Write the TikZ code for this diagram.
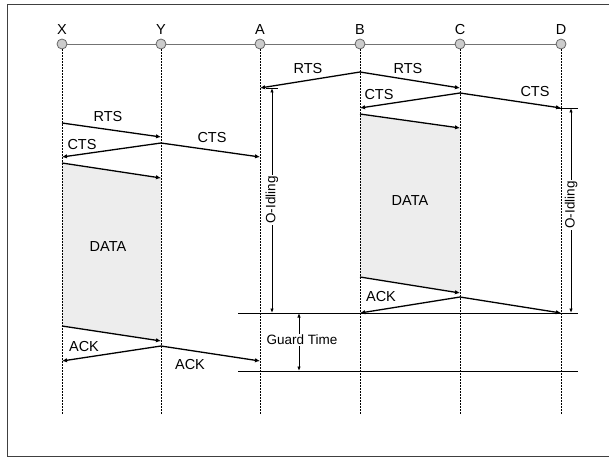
\documentclass[tikz,border=0pt]{standalone}
\usepackage{fontspec}
\setmainfont{Liberation Sans}
\usetikzlibrary{arrows.meta}
\begin{document}
\begin{tikzpicture}[x=1pt,y=-1pt,
  msg/.style={line width=1.3pt,-{Latex[length=5pt,width=4.5pt]}},
  dur/.style={line width=0.9pt,{Latex[length=4.5pt,width=3.5pt]}-{Latex[length=4.5pt,width=3.5pt]}},
  life/.style={line width=0.8pt,dash pattern=on 2pt off 1pt},
  station/.style={circle,draw=black!60,fill=black!20,minimum size=10pt,inner sep=0pt,line width=0.8pt},
  lbl/.style={font=\fontsize{14.5}{16}\selectfont,inner sep=0pt},
  slbl/.style={font=\fontsize{13.5}{15}\selectfont,inner sep=1pt,fill=white},
  databox/.style={fill=black!7,draw=none}]
\useasboundingbox (0,0) rectangle (609,457);
\draw[line width=1pt,black!75] (7,456) -- (7,5) -- (612,5);
\draw[line width=1pt,black!75] (7,456) -- (612,456);

% stations
\draw[line width=0.9pt,black!55] (62,44) -- (561,44);
\foreach \n/\x in {X/62,Y/161,A/260,B/360,C/460,D/561}{
  \node[station] (\n) at (\x,44) {};
  \node[lbl] (l\n) at (\x,30) {\n};
  \coordinate (\n e) at (\x,415);
}

% data boxes
\coordinate (d1a) at (62,163); \coordinate (d1b) at (161,178);
\coordinate (d1c) at (161,341); \coordinate (d1d) at (62,326);
\fill[databox] (d1a) -- (d1b) -- (d1c) -- (d1d) -- cycle;
\coordinate (d2a) at (360,114); \coordinate (d2b) at (460,128);
\coordinate (d2c) at (460,293); \coordinate (d2d) at (360,277);
\fill[databox] (d2a) -- (d2b) -- (d2c) -- (d2d) -- cycle;

% lifelines
\foreach \n in {X,Y,A,B,C,D}{ \draw[life] (\n.south) -- (\n e); }

% left exchange
\coordinate (r1s) at (62,123); \coordinate (r1e) at (161,137);
\draw[msg] (r1s) -- (r1e);
\coordinate (c1s) at (161,143); \coordinate (c1x) at (62,157); \coordinate (c1a) at (260,157);
\draw[msg] (c1s) -- (c1x); \draw[msg] (c1s) -- (c1a);
\draw[msg] (d1a) -- (d1b);
\draw[msg] (d1d) -- (d1c);
\coordinate (a1s) at (161,346); \coordinate (a1x) at (62,361); \coordinate (a1a) at (260,361);
\draw[msg] (a1s) -- (a1x); \draw[msg] (a1s) -- (a1a);

% right exchange
\coordinate (r2s) at (360,72); \coordinate (r2a) at (260,88); \coordinate (r2c) at (460,88);
\draw[msg] (r2s) -- (r2a); \draw[msg] (r2s) -- (r2c);
\coordinate (c2s) at (460,93); \coordinate (c2b) at (360,108); \coordinate (c2d) at (561,108);
\draw[msg] (c2s) -- (c2b); \draw[msg] (c2s) -- (c2d);
\draw[msg] (d2a) -- (d2b);
\draw[msg] (d2d) -- (d2c);
\coordinate (a2s) at (460,297); \coordinate (a2b) at (360,313); \coordinate (a2d) at (561,313);
\draw[msg] (a2s) -- (a2b); \draw[msg] (a2s) -- (a2d);

% guard lines and ticks
\coordinate (g1l) at (238,313); \coordinate (g1r) at (578,313);
\coordinate (g2l) at (238,371); \coordinate (g2r) at (578,371);
\draw[line width=0.9pt] (g1l) -- (g1r);
\draw[line width=0.9pt] (g2l) -- (g2r);
\coordinate (t1l) at (266,88); \coordinate (t1r) at (278,88);
\coordinate (t2l) at (556,108); \coordinate (t2r) at (578,108);
\draw[line width=0.9pt] (t1l) -- (t1r);
\draw[line width=0.9pt] (t2l) -- (t2r);

% durations
\coordinate (o1t) at (272,88); \coordinate (o1b) at (272,313);
\draw[dur] (o1t) -- (o1b);
\node[slbl,rotate=90] (o1) at (272,200) {O-Idling};
\coordinate (o2t) at (571,108); \coordinate (o2b) at (571,313);
\draw[dur] (o2t) -- (o2b);
\node[slbl,rotate=90] (o2) at (571,205) {O-Idling};
\coordinate (gt) at (299,313); \coordinate (gb) at (299,371);
\draw[dur] (gt) -- (gb);
\node[slbl] (gtl) at (302,340) {Guard Time};

% labels
\node[lbl] (L1) at (108,117) {RTS};
\node[lbl] (L2) at (82,145) {CTS};
\node[lbl] (L3) at (212,138) {CTS};
\node[lbl] (L4) at (108,247) {DATA};
\node[lbl] (L5) at (84,347) {ACK};
\node[lbl] (L6) at (190,365) {ACK};
\node[lbl] (L7) at (308,69) {RTS};
\node[lbl] (L8) at (408,69) {RTS};
\node[lbl] (L9) at (379,95) {CTS};
\node[lbl] (L10) at (535,92) {CTS};
\node[lbl] (L11) at (410,201) {DATA};
\node[lbl] (L12) at (381,297) {ACK};
\end{tikzpicture}
\end{document}
